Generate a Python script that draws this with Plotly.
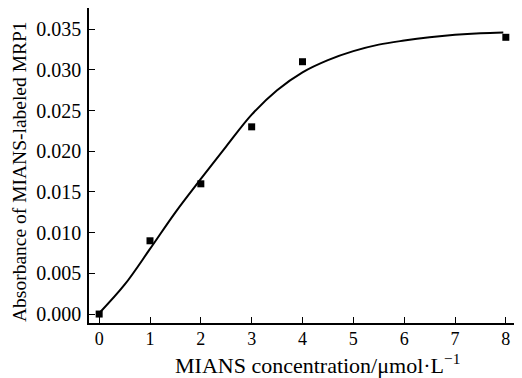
import plotly.graph_objects as go

# measured data points
conc = [0, 1, 2, 3, 4, 8]
absorb = [0.0000, 0.0090, 0.0160, 0.0230, 0.0310, 0.0340]

# fitted curve
fit_x = [0, 0.5, 1, 1.5, 2, 2.5, 3, 3.5, 4, 4.5, 5, 5.5, 6, 6.5, 7, 7.5, 7.95]
fit_y = [0.0001, 0.0036, 0.0080, 0.0125, 0.0166, 0.0206, 0.0245, 0.0275, 0.0297,
         0.0312, 0.0323, 0.0331, 0.0336, 0.0340, 0.0343, 0.0345, 0.0346]

x_ticks = [0, 1, 2, 3, 4, 5, 6, 7, 8]
y_ticks = [0.000, 0.005, 0.010, 0.015, 0.020, 0.025, 0.030, 0.035]

x_title = "MIANS concentration/μmol·L<sup>−1</sup>"
y_title = "Absorbance of MIANS-labeled MRP1"

FONT = "Liberation Serif"

fig = go.Figure()
fig.add_trace(go.Scatter(x=fit_x, y=fit_y, mode="lines",
                         line=dict(color="black", width=2, shape="spline", smoothing=1.0),
                         showlegend=False, hoverinfo="skip"))
fig.add_trace(go.Scatter(x=conc, y=absorb, mode="markers",
                         marker=dict(symbol="square", size=7, color="black"),
                         showlegend=False))

# the page body adds an 8px offset, so the figure is 8px smaller and margins compensate
fig.update_layout(
    width=514, height=370,
    margin=dict(l=81, r=6, t=0, b=55),
    paper_bgcolor="white", plot_bgcolor="white",
    font=dict(family=FONT, color="black", size=17),
    xaxis=dict(range=[-0.2, 8.2], tickvals=x_ticks, ticks="inside", ticklen=6,
               tickwidth=1.2, tickcolor="black", automargin=False,
               ticklabelstandoff=-1,
               showline=True, mirror=True, linecolor="black", linewidth=1.5,
               showgrid=False, zeroline=False,
               tickfont=dict(family=FONT, size=18)),
    yaxis=dict(range=[-0.0011, 0.0376], tickvals=y_ticks, tickformat=".3f",
               ticks="inside", ticklen=6, tickwidth=1.2, tickcolor="black",
               automargin=False, ticklabelstandoff=2,
               showline=True, mirror=True, linecolor="black", linewidth=1.5,
               showgrid=False, zeroline=False,
               tickfont=dict(family=FONT, size=20)),
    annotations=[
        dict(text=x_title, xref="paper", yref="paper", x=0.534, y=-0.13,
             xanchor="center", yanchor="middle", showarrow=False,
             font=dict(family=FONT, size=22)),
        dict(text=y_title, xref="paper", yref="paper", x=-0.164, y=0.4825,
             xanchor="center", yanchor="middle", showarrow=False, textangle=-90,
             font=dict(family=FONT, size=19.5)),
    ],
)

fig.write_html("out.html")
